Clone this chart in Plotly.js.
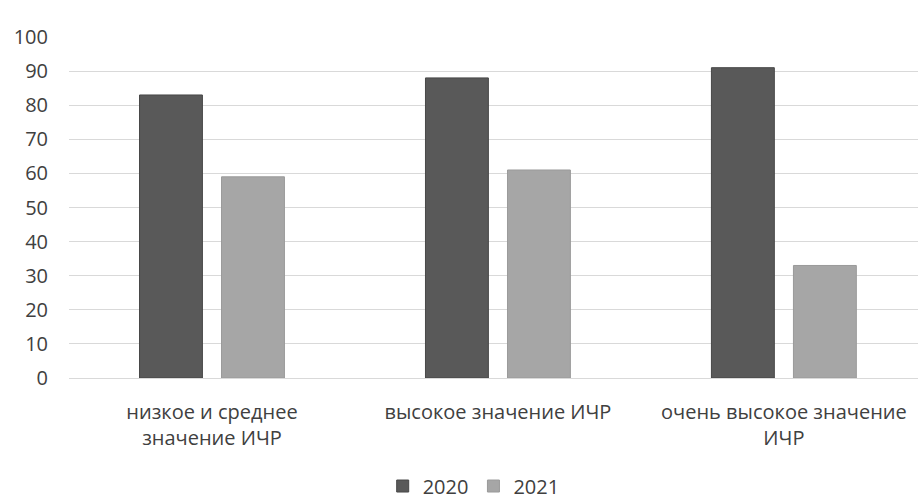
<!DOCTYPE html>
<html>
<head>
<meta charset="utf-8">
<script src="https://cdn.plot.ly/plotly-3.0.1.min.js"></script>
<style>html,body{margin:0;padding:0;background:#fff;}#chart{width:918px;height:499px;}</style>
</head>
<body>
<div id="chart"></div>
<script>
const categories = ["низкое и среднее<br>значение ИЧР", "высокое значение ИЧР", "очень высокое значение<br>ИЧР"];
const seriesNames = ["2020", "2021"];
const values2020 = [83, 88, 91];
const values2021 = [59, 61, 33];
const yTicks = [0, 10, 20, 30, 40, 50, 60, 70, 80, 90, 100];

const font = {family: "Open Sans, sans-serif", size: 20, color: "#404040"};

const traces = [
  {type: "bar", name: seriesNames[0], x: categories, y: values2020,
   marker: {color: "#595959", line: {color: "#474747", width: 1}}, hoverinfo: "y"},
  {type: "bar", name: seriesNames[1], x: categories, y: values2021,
   marker: {color: "#a6a6a6", line: {color: "#9a9a9a", width: 1}}, hoverinfo: "y"}
];

const layout = {
  width: 918, height: 499,
  margin: {l: 69, r: 0, t: 37, b: 121},
  paper_bgcolor: "#fff", plot_bgcolor: "#fff",
  font: font,
  barmode: "group",
  bargap: 0.4264,
  bargroupgap: 0.233,
  showlegend: true,
  legend: {orientation: "h", xref: "container", yref: "container",
           x: 0.516, xanchor: "center", y: 0.026, yanchor: "middle",
           font: font, itemwidth: 30, traceorder: "normal"},
  xaxis: {range: [-0.5, 2.469], showgrid: false, showline: false, zeroline: false,
          ticks: "", tickfont: font, ticklabelstandoff: 20, fixedrange: true},
  yaxis: {range: [0, 100], tickvals: yTicks, ticktext: yTicks.map(String),
          showgrid: true, gridcolor: "#d9d9d9", gridwidth: 1,
          zeroline: true, zerolinecolor: "#d9d9d9", zerolinewidth: 1,
          showline: false, ticks: "", tickfont: font, ticklabelstandoff: 20, fixedrange: true}
};

Plotly.newPlot("chart", traces, layout, {displayModeBar: false, staticPlot: true});
</script>
</body>
</html>
